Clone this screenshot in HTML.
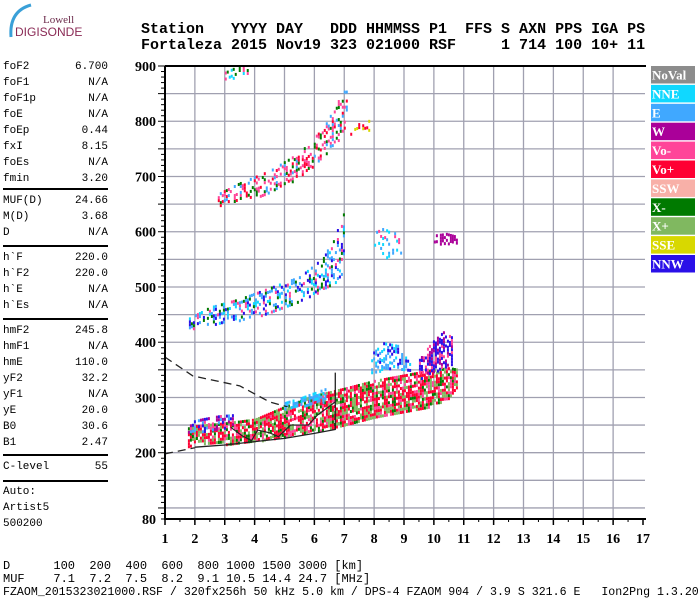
<!DOCTYPE html>
<html><head><meta charset="utf-8"><style>
body{margin:0;background:#fff;width:700px;height:600px;overflow:hidden;position:relative;font-family:"Liberation Mono",monospace}
.hdr{position:absolute;left:141px;font:bold 15px "Liberation Mono",monospace;white-space:pre;line-height:15px}
.lp{position:absolute;left:3px;width:105px;font-size:11px;line-height:16px;color:#000}
.lp div{display:flex;justify-content:space-between;height:16px}
.rule{position:absolute;left:3px;width:105px;height:0;border-top:2px solid #000}
.bt{position:absolute;left:3px;font-size:12px;white-space:pre;line-height:12px}
</style></head><body>
<div style="position:absolute;left:3px;top:3px;width:80px;height:40px">
<svg width="80" height="40"><path d="M8 34 Q6 8 28 2" stroke="#3aa0d8" stroke-width="3" fill="none"/>
<text x="40" y="20" font-family="Liberation Serif" font-size="11" fill="#6b2a4a">Lowell</text>
<text x="12" y="33" font-family="Liberation Sans" font-size="12" fill="#8a2a55">DIGISONDE</text></svg></div>
<div class="hdr" style="top:22px">Station   YYYY DAY   DDD HHMMSS P1  FFS S AXN PPS IGA PS</div>
<div class="hdr" style="top:38px">Fortaleza 2015 Nov19 323 021000 RSF     1 714 100 10+ 11</div>

<div class="lp" style="top:59px">
<div><span>foF2</span><span>6.700</span></div><div><span>foF1</span><span>N/A</span></div><div><span>foF1p</span><span>N/A</span></div><div><span>foE</span><span>N/A</span></div><div><span>foEp</span><span>0.44</span></div><div><span>fxI</span><span>8.15</span></div><div><span>foEs</span><span>N/A</span></div><div><span>fmin</span><span>3.20</span></div></div>
<div class="rule" style="top:188px"></div>
<div class="lp" style="top:193px">
<div><span>MUF(D)</span><span>24.66</span></div><div><span>M(D)</span><span>3.68</span></div><div><span>D</span><span>N/A</span></div></div>
<div class="rule" style="top:245px"></div>
<div class="lp" style="top:250px">
<div><span>h`F</span><span>220.0</span></div><div><span>h`F2</span><span>220.0</span></div><div><span>h`E</span><span>N/A</span></div><div><span>h`Es</span><span>N/A</span></div></div>
<div class="rule" style="top:318px"></div>
<div class="lp" style="top:323px">
<div><span>hmF2</span><span>245.8</span></div><div><span>hmF1</span><span>N/A</span></div><div><span>hmE</span><span>110.0</span></div><div><span>yF2</span><span>32.2</span></div><div><span>yF1</span><span>N/A</span></div><div><span>yE</span><span>20.0</span></div><div><span>B0</span><span>30.6</span></div><div><span>B1</span><span>2.47</span></div></div>
<div class="rule" style="top:454px"></div>
<div class="lp" style="top:459px"><div><span>C-level</span><span>55</span></div></div>
<div class="rule" style="top:480px"></div>
<div class="lp" style="top:484px"><div><span>Auto:</span></div><div><span>Artist5</span></div><div><span>500200</span></div></div>

<div class="bt" style="top:560px">D      100  200  400  600  800 1000 1500 3000 [km]</div>
<div class="bt" style="top:573px">MUF    7.1  7.2  7.5  8.2  9.1 10.5 14.4 24.7 [MHz]</div>
<div class="bt" style="top:587px;font-size:11.6px">FZAOM_2015323021000.RSF / 320fx256h 50 kHz 5.0 km / DPS-4 FZAOM 904 / 3.9 S 321.6 E   Ion2Png 1.3.20</div>

<svg id="chart" width="700" height="600" style="position:absolute;left:0;top:0"></svg>
<script>
// Data
const xTicks=[1,2,3,4,5,6,7,8,9,10,11,12,13,14,15,16,17];
const yTicks=[80,200,300,400,500,600,700,800,900];
const legendNames=["NoVal","NNE","E","W","Vo-","Vo+","SSW","X-","X+","SSE","NNW"];
const legendColors=["#8c8c8c","#10d8ff","#40a8ff","#aa0099","#ff4499","#ff0033","#f8b0a8","#007a00","#80b860","#d8d800","#2a10e8"];
// trace bands: freq, lower height, upper height
const f2Freq=[1.7,2,3,4,5,6,7,8,9,10,10.5,10.8];
const f2Lo=[212,212,217,222,230,240,250,262,272,288,300,320];
const f2Hi=[245,250,255,262,285,305,318,332,342,352,355,352];
const hop2Freq=[1.8,2.5,3.5,4.5,5.5,6.3,6.8,7.0];
const hop2Lo=[425,432,440,455,475,495,515,535];
const hop2Hi=[445,465,480,500,520,555,610,640];
const hop3Freq=[2.7,3.5,4.5,5.5,6.3,6.8,7.1];
const hop3Lo=[648,655,672,700,735,765,785];
const hop3Hi=[668,690,712,745,790,840,865];
const eBlobFreq=[7.9,8.3,8.8,9.2];
const eBlobLo=[345,350,350,348];
const eBlobHi=[380,400,395,360];
const xBlobFreq=[9.5,9.9,10.3,10.6];
const xBlobLo=[335,345,355,360];
const xBlobHi=[370,400,420,410];
const esBlobFreq=[5,5.5,6,6.4];
const esBlobLo=[280,285,290,295];
const esBlobHi=[292,300,310,318];
const wBlobFreq=[1.7,2.2,2.8,3.3];
const wBlobLo=[238,240,245,250];
const wBlobHi=[255,262,268,270];
const s1Freq=[8,8.4,8.9];const s1Lo=[550,555,560];const s1Hi=[600,610,590];
const s2Freq=[10,10.4,10.8];const s2Lo=[580,580,582];const s2Hi=[595,598,592];
const s3Freq=[3,3.4,3.8];const s3Lo=[870,880,888];const s3Hi=[890,900,900];
const s4Freq=[7.2,7.6,8.0];const s4Lo=[770,780,790];const s4Hi=[790,800,805];
const dashUpF=[1,1.93,3.5,4.5,5.1];const dashUpH=[373,339,321,292,283];
const dashLoF=[1,2];const dashLoH=[198,209];
const solidF=[2,3,4,5,6,6.7,6.7];const solidH=[210,214,220,226,235,242,345];
const zigF=[3.2,3.6,3.9,4.1,4.5,4.8,5.2,5.8,6.1,6.7];
const zigH=[246,230,222,241,236,229,250,250,268,292];

const NS="http://www.w3.org/2000/svg";
const svg=document.getElementById('chart');
const X0=165,X1=643,Y0=66,Y1=519;
const xs=f=>X0+(f-1)*(X1-X0)/16;
const ys=h=>Y0+(900-h)*(Y1-Y0)/820;
function mk(t,a,p){const e=document.createElementNS(NS,t);for(const k in a)e.setAttribute(k,a[k]);(p||svg).appendChild(e);return e;}
function hsh(a,b){let h=(a*374761393+b*668265263)>>>0;h=((h^(h>>>13))*1274126177)>>>0;return (h^(h>>>16))>>>0;}
// grid
const grid=mk('g',{});


for(let f=2;f<=16;f++)mk('line',{x1:xs(f),x2:xs(f),y1:Y0,y2:Y1,stroke:'#a0a0b0','stroke-width':1.3},grid);
for(let h=100;h<900;h+=50)mk('line',{x1:X0,x2:X1+2,y1:ys(h),y2:ys(h),stroke:'#a0a0b0','stroke-width':1.3},grid);
function interp(F,A,f){for(let i=0;i<F.length-1;i++){if(f>=F[i]&&f<=F[i+1]){const t=(f-F[i])/(F[i+1]-F[i]);return A[i]+t*(A[i+1]-A[i]);}}return null;}
let seed=1;
function band(name,F,Lo,Hi,pal,density){
  const g=mk('g',{});
  
  
  seed++;
  const xa=xs(F[0]),xb=xs(F[F.length-1]);
  let i=0;
  for(let x=xa;x<=xb;x+=2,i++){
    const f=1+(x-X0)*16/(X1-X0);
    const lo=interp(F,Lo,f),hi=interp(F,Hi,f);
    if(lo===null)continue;
    let j=0;
    for(let y=ys(hi);y<=ys(lo);y+=3,j++){
      const hv=hsh(i+seed*1000,j);
      if((hv%100)>=density*10)continue;
      mk('rect',{x:x,y:y,width:2,height:3,fill:pal[(hv>>>8)%pal.length]},g);
    }
  }
}
band('f2-trace',f2Freq,f2Lo,f2Hi,['#ff0033','#ff4499','#007a00','#80b860','#ff0033','#80b860','#ff0033'],8);
band('w-cluster',wBlobFreq,wBlobLo,wBlobHi,['#aa0099','#2a10e8','#40a8ff','#ff4499'],5);
band('es-cluster',esBlobFreq,esBlobLo,esBlobHi,['#40a8ff','#40a8ff','#10d8ff'],6);
band('e-cluster',eBlobFreq,eBlobLo,eBlobHi,['#40a8ff','#40a8ff','#10d8ff','#2a10e8'],5);
band('x-cluster',xBlobFreq,xBlobLo,xBlobHi,['#2a10e8','#2a10e8','#aa0099','#ff4499'],6);
band('second-hop',hop2Freq,hop2Lo,hop2Hi,['#40a8ff','#ff4499','#40a8ff','#2a10e8','#007a00','#10d8ff'],4);
band('third-hop',hop3Freq,hop3Lo,hop3Hi,['#ff4499','#007a00','#40a8ff','#ff0033','#ff4499'],4);
band('sporadic-1',s1Freq,s1Lo,s1Hi,['#40a8ff','#10d8ff','#ff4499'],3);
band('sporadic-2',s2Freq,s2Lo,s2Hi,['#aa0099'],6);
band('sporadic-3',s3Freq,s3Lo,s3Hi,['#ff4499','#10d8ff','#007a00'],3);
band('sporadic-4',s4Freq,s4Lo,s4Hi,['#ff0033','#d8d800'],2);
function pl(name,F,H,dash,w){
  const p=mk('polyline',{points:F.map((f,i)=>xs(f)+','+ys(H[i])).join(' '),fill:'none',stroke:'#222','stroke-width':w});
  if(dash)p.setAttribute('stroke-dasharray',dash);
  
  
}
pl('dashed-upper',dashUpF,dashUpH,'8,5',1.3);
pl('dashed-lower',dashLoF,dashLoH,'8,5',1.3);
pl('profile-lower',solidF,solidH,null,1.3);
pl('profile-trace',zigF,zigH,null,1.2);
// frame
const fr=mk('path',{d:`M${X0} ${Y0}H${X1+3}M${X0} ${Y0}V${Y1}H${X1+3}`,stroke:'#000','stroke-width':2,fill:'none'});


for(let h=80;h<=900;h+=10){mk('line',{x1:X0-(h%50===0?7:4),x2:X0,y1:ys(h),y2:ys(h),stroke:'#000','stroke-width':1});}
for(const f of xTicks){mk('line',{x1:xs(f),x2:xs(f),y1:Y1,y2:Y1+6,stroke:'#000','stroke-width':1.5});}
for(let f=1;f<17;f+=0.5){mk('line',{x1:xs(f),x2:xs(f),y1:Y1,y2:Y1+3,stroke:'#000'});}
for(const f of xTicks){const t=mk('text',{x:xs(f),y:543,'text-anchor':'middle','font-family':'Liberation Serif','font-weight':'bold','font-size':14});t.textContent=f;

}
for(const h of yTicks){const t=mk('text',{x:X0-9,y:ys(h)+5,'text-anchor':'end','font-family':'Liberation Serif','font-weight':'bold','font-size':14});t.textContent=h;

}
legendNames.forEach((n,i)=>{
  const g=mk('g',{});
  
  
  const y=66+i*18.9;
  mk('rect',{x:651,y:y,width:44,height:17.5,fill:legendColors[i]},g);
  const t=mk('text',{x:652,y:y+13.5,fill:'#fff','font-family':'Liberation Serif','font-weight':'bold','font-size':13},g);t.textContent=n;
});
</script>
</body></html>
